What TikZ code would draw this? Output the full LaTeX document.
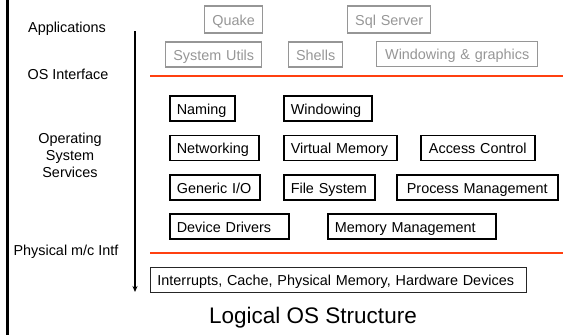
\documentclass[tikz,border=0pt]{standalone}
\usepackage{fontspec}
\setmainfont{Liberation Sans}
\usetikzlibrary{arrows.meta}
\definecolor{ifline}{RGB}{255,64,16}
\definecolor{appgray}{RGB}{150,150,150}
\begin{document}
\begin{tikzpicture}[x=1pt,y=-1pt,
  every node/.style={font=\fontsize{14.4}{17}\selectfont},
  lbl/.style={align=center, inner sep=0pt},
  sbox/.style={draw, line width=1.6pt, anchor=west, minimum height=25pt, inner xsep=7pt, inner ysep=0pt, align=left, text height=12pt, text depth=0.4pt},
  appbox/.style={sbox, draw=appgray, text=appgray, line width=1.4pt},
  hwbox/.style={sbox, draw=black!85, line width=0.9pt},
  ifl/.style={draw=ifline, line width=1.6pt}]
\useasboundingbox (0,0) rectangle (570,335);
% left border line
\coordinate (lt) at (7.5,0);
\coordinate (lb) at (7.5,335);
\draw[line width=3pt] (lt) -- (lb);
% layer arrow
\coordinate (at) at (135,31);
\coordinate (ab) at (135,292);
\draw[line width=1.3pt, -{Stealth[length=6pt,width=5pt]}] (at) -- (ab);
% left labels
\node[lbl] (app) at (67,29) {Applications};
\node[lbl] (osi) at (68,74) {OS Interface};
\node[lbl, align=center] (oss) at (70,155) {Operating\\System\\Services};
\node[lbl] (phy) at (66,252) {Physical m/c Intf};
% interface lines
\coordinate (i1a) at (150,76);
\coordinate (i1b) at (563,76);
\draw[ifl] (i1a) -- (i1b);
\coordinate (i2a) at (150,253);
\coordinate (i2b) at (563,253);
\draw[ifl] (i2a) -- (i2b);
% applications
\node[appbox, minimum height=27pt, text width=58pt-14pt, align=center] (quake) at (204,19.5) {Quake};
\node[appbox, minimum height=27pt, text width=83pt-14pt, align=center] (sql) at (347,19.5) {Sql Server};
\node[appbox, text width=96pt-14pt, align=center] (sysu) at (165,54.5) {System Utils};
\node[appbox, text width=54pt-14pt, align=center] (shells) at (288,54.5) {Shells};
\node[appbox, text width=161pt-14pt, align=center] (wg) at (376,54) {Windowing \& graphics};
% OS services
\node[sbox, text width=65pt-14pt] (naming) at (169,108.5) {Naming};
\node[sbox, text width=88pt-14pt] (win) at (283,108.5) {Windowing};
\node[sbox, text width=89pt-14pt] (net) at (169,148) {Networking};
\node[sbox, text width=113pt-14pt] (vm) at (283,148) {Virtual Memory};
\node[sbox, text width=114pt-14pt, align=center] (ac) at (420,148) {Access Control};
\node[sbox, text width=90pt-14pt] (gio) at (169,187.5) {Generic I/O};
\node[sbox, text width=91pt-14pt] (fs) at (283,187.5) {File System};
\node[sbox, text width=161pt-14pt, align=center] (pm) at (396,187.5) {Process Management};
\node[sbox, text width=119pt-14pt] (dd) at (169,226.5) {Device Drivers};
\node[sbox, text width=168pt-14pt] (mm) at (327,226.5) {Memory Management};
% hardware
\node[hwbox, text width=376pt-14pt] (hw) at (150,279.5) {Interrupts, Cache, Physical Memory, Hardware Devices};
% title
\node[inner sep=0pt, font=\fontsize{22.5}{26}\selectfont] (title) at (313,318) {Logical OS Structure};
\end{tikzpicture}
\end{document}
